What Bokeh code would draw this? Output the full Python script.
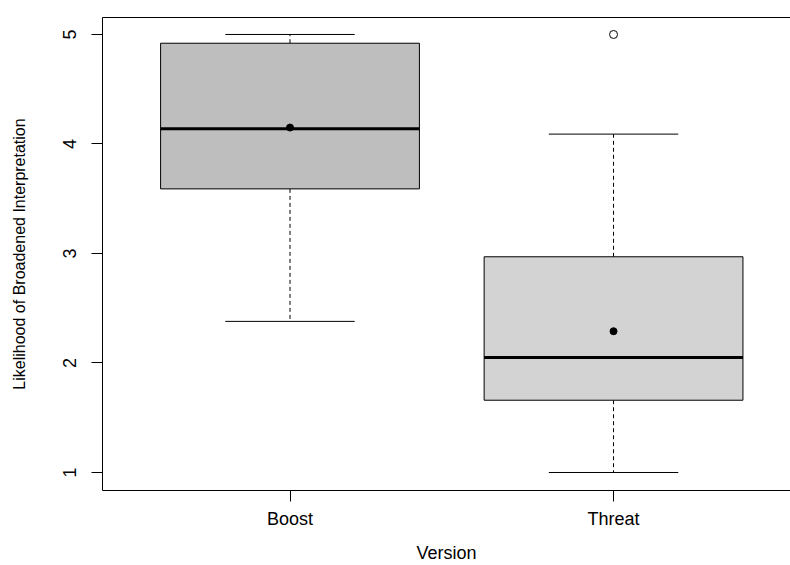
import numpy as np
from bokeh.plotting import figure
from bokeh.models import FixedTicker, LinearAxis, Range1d, ColumnDataSource
from bokeh.embed import file_html
from bokeh.resources import INLINE

# ---- data ----
categories = ["Boost", "Threat"]
q1 = [3.59, 1.66]
medians = [4.14, 2.05]
q3 = [4.92, 2.97]
lower_whisker = [2.38, 1.00]
upper_whisker = [5.00, 4.09]
means = [4.15, 2.29]
outlier_category = ["Threat"]
outlier_value = [5.00]
box_colors = ["#BEBEBE", "#D3D3D3"]
y_ticks = [1, 2, 3, 4, 5]

FONT = "Liberation Sans"

xs = [categories.index(c) + 1 for c in categories]
box_w = 0.8
cap_w = 0.4

y0, y1 = 0.8356, 5.155
p = figure(width=790, height=565, output_backend="svg", toolbar_location=None,
           x_range=Range1d(0.4204, 2.547), y_range=Range1d(y0, y1),
           min_border_left=102, min_border_right=0, min_border_top=17, min_border_bottom=75)
p.outline_line_color = None
p.grid.visible = False
p.background_fill_color = "white"
p.border_fill_color = "white"

src = ColumnDataSource(dict(x=xs, q1=q1, q3=q3, med=medians, lo=lower_whisker, hi=upper_whisker,
                            mean=means, color=box_colors,
                            xl=[x - cap_w / 2 for x in xs], xr=[x + cap_w / 2 for x in xs],
                            bl=[x - box_w / 2 for x in xs], br=[x + box_w / 2 for x in xs]))

# whiskers (dashed)
p.segment(x0="x", y0="q3", x1="x", y1="hi", source=src, line_color="black", line_width=1, line_dash="4 3")
p.segment(x0="x", y0="q1", x1="x", y1="lo", source=src, line_color="black", line_width=1, line_dash="4 3")
# caps
p.segment(x0="xl", y0="hi", x1="xr", y1="hi", source=src, line_color="black", line_width=1)
p.segment(x0="xl", y0="lo", x1="xr", y1="lo", source=src, line_color="black", line_width=1)
# boxes
p.vbar(x="x", width=box_w, bottom="q1", top="q3", source=src, fill_color="color",
       line_color="black", line_width=1)
# medians
p.segment(x0="bl", y0="med", x1="br", y1="med", source=src, line_color="black", line_width=3)
# means
p.scatter(x="x", y="mean", source=src, size=7, marker="circle", fill_color="black", line_color="black")
# outliers
ox = [categories.index(c) + 1 for c in outlier_category]
p.scatter(x=ox, y=outlier_value, size=8, marker="circle", fill_color=None, line_color="black", line_width=1)

# x axis
xa = p.xaxis[0]
xa.ticker = FixedTicker(ticks=xs)
xa.major_label_overrides = {x: c for x, c in zip(xs, categories)}
xa.axis_label = "Version"
xa.major_tick_out = 11
xa.major_tick_in = 0
xa.minor_tick_line_color = None
xa.axis_line_color = "black"
xa.major_label_standoff = 7
xa.axis_label_standoff = 11
xa.major_label_text_font = FONT
xa.major_label_text_font_size = "18px"
xa.major_label_text_color = "black"
xa.axis_label_text_font = FONT
xa.axis_label_text_font_size = "18px"
xa.axis_label_text_font_style = "normal"
xa.axis_label_text_color = "black"

# y axis
ya = p.yaxis[0]
ya.ticker = FixedTicker(ticks=y_ticks)
ya.axis_label = "Likelihood of Broadened Interpretation"
ya.major_label_orientation = "vertical"
ya.major_tick_out = 11
ya.major_tick_in = 0
ya.minor_tick_line_color = None
ya.axis_line_color = "black"
ya.major_label_standoff = 15
ya.axis_label_standoff = 33
ya.major_label_text_font = FONT
ya.major_label_text_font_size = "18px"
ya.major_label_text_color = "black"
ya.axis_label_text_font = FONT
ya.axis_label_text_font_size = "16px"
ya.axis_label_text_font_style = "normal"
ya.axis_label_text_color = "black"

# top border line
top = LinearAxis(ticker=FixedTicker(ticks=[]), axis_line_color="black",
                 major_tick_line_color=None, minor_tick_line_color=None,
                 major_label_text_font_size="0px")
p.add_layout(top, "above")

open("out.html", "w").write(file_html(p, INLINE))
